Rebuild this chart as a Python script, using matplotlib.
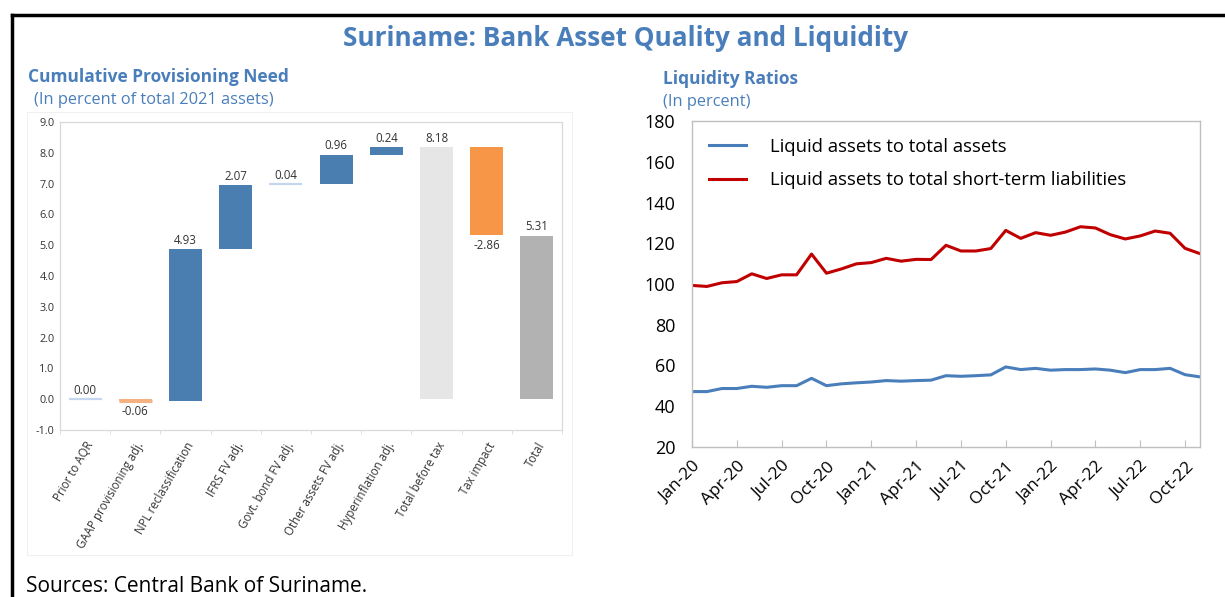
import numpy as np
import matplotlib.pyplot as plt
from matplotlib.lines import Line2D
from matplotlib.patches import Rectangle

plt.rcParams['font.family'] = ['Open Sans', 'DejaVu Sans']

# left panel: waterfall of provisioning need
steps = ['Prior to AQR', 'GAAP provisioning adj.', 'NPL reclassification', 'IFRS FV adj.',
         'Govt. bond FV adj.', 'Other assets FV adj.', 'Hyperinflation adj.',
         'Total before tax', 'Tax impact', 'Total']
changes = [0.00, -0.06, 4.93, 2.07, 0.04, 0.96, 0.24, 8.18, -2.86, 5.31]
kinds = ['adj', 'neg', 'adj', 'adj', 'adj', 'adj', 'adj', 'subtotal', 'tax', 'total']

# right panel: liquidity ratios, monthly Jan-20 .. Nov-22
months = ['Jan-20', 'Feb-20', 'Mar-20', 'Apr-20', 'May-20', 'Jun-20', 'Jul-20', 'Aug-20',
          'Sep-20', 'Oct-20', 'Nov-20', 'Dec-20', 'Jan-21', 'Feb-21', 'Mar-21', 'Apr-21',
          'May-21', 'Jun-21', 'Jul-21', 'Aug-21', 'Sep-21', 'Oct-21', 'Nov-21', 'Dec-21',
          'Jan-22', 'Feb-22', 'Mar-22', 'Apr-22', 'May-22', 'Jun-22', 'Jul-22', 'Aug-22',
          'Sep-22', 'Oct-22', 'Nov-22']
liq_total_assets = [47.2, 47.2, 48.7, 48.7, 49.8, 49.3, 50.1, 50.1, 53.7, 50.1, 51.0, 51.5,
                    51.9, 52.6, 52.3, 52.6, 52.8, 55.0, 54.7, 55.0, 55.4, 59.3, 58.0, 58.6,
                    57.7, 58.0, 58.0, 58.3, 57.7, 56.5, 58.0, 58.0, 58.6, 55.5, 54.4]
liq_st_liab = [99.3, 98.8, 100.6, 101.2, 105.0, 102.7, 104.5, 104.5, 114.7, 105.3, 107.4, 109.9,
               110.5, 112.6, 111.2, 112.1, 112.0, 119.0, 116.2, 116.2, 117.4, 126.3, 122.4, 125.2,
               123.9, 125.5, 128.1, 127.5, 124.2, 122.1, 123.6, 126.0, 124.9, 117.5, 114.9]

W, H = 1225, 597
fig = plt.figure(figsize=(W / 100, H / 100), dpi=100)
title_c = '#4A7EBB'

def fx(px): return px / W
def fy(py): return 1 - py / H

# black frame of the box (cut at right/bottom)
fig.add_artist(Line2D([fx(12), fx(12)], [fy(15), 0], color='black', lw=2.5))
fig.add_artist(Line2D([fx(12), 1], [fy(15), fy(15)], color='black', lw=2.5))
fig.add_artist(Rectangle((fx(27), fy(555)), fx(572) - fx(27), fy(112) - fy(555),
                         fill=False, ec='#f0f0f0', lw=0.8))

fig.text(fx(626), fy(38), 'Suriname: Bank Asset Quality and Liquidity', ha='center', va='center',
         fontsize=18.8, fontweight='bold', color=title_c)
fig.text(fx(28), fy(77), 'Cumulative Provisioning Need', ha='left', va='center',
         fontsize=12.5, fontweight='bold', color=title_c)
fig.text(fx(34), fy(100), '(In percent of total 2021 assets)', ha='left', va='center',
         fontsize=11.8, color=title_c)
fig.text(fx(663), fy(79), 'Liquidity Ratios', ha='left', va='center',
         fontsize=12.5, fontweight='bold', color=title_c)
fig.text(fx(663), fy(102), '(In percent)', ha='left', va='center', fontsize=11.8, color=title_c)
fig.text(fx(26), fy(587), 'Sources: Central Bank of Suriname.', ha='left', va='center',
         fontsize=15, color='black')

# ---- waterfall
ax = fig.add_axes([fx(60), fy(430), fx(562) - fx(60), fy(122) - fy(430)])
bottoms, heights, colors = [], [], []
level = 0.0
for k, c in zip(kinds, changes):
    if k in ('adj', 'neg', 'tax'):
        bottoms.append(level); heights.append(c); level += c
        colors.append({'adj': '#4A7EB0', 'neg': '#F6B183', 'tax': '#F79646'}[k])
    elif k == 'subtotal':
        bottoms.append(0); heights.append(c); level = c; colors.append('#E6E6E6')
    else:
        bottoms.append(0); heights.append(c); colors.append('#B2B2B2')
x = np.arange(len(steps))
ax.bar(x, heights, bottom=bottoms, width=0.66, color=colors, edgecolor='none')
for i, (b, h) in enumerate(zip(bottoms, heights)):
    if abs(h) < 0.1:
        ax.plot([i - 0.33, i + 0.33], [b + h, b + h],
                color='#C5D7EE' if kinds[i] == 'adj' else '#F6B183',
                lw=1.6 if kinds[i] == 'adj' else 2.2, solid_capstyle='butt')
    if h >= 0:
        ax.text(i, b + h + 0.07, f'{h:.2f}', ha='center', va='bottom', fontsize=8.3, color='#333333')
    else:
        ax.text(i, b + h - 0.12, f'{h:.2f}', ha='center', va='top', fontsize=8.3, color='#333333')
ax.set_xlim(-0.5, len(steps) - 0.5)
ax.set_ylim(-1, 9)
ax.set_yticks(np.arange(-1, 9.1, 1))
ax.set_yticklabels([f'{v:.1f}' for v in np.arange(-1, 9.1, 1)], fontsize=7.8, color='#333333')
ax.set_xticks(x)
ax.set_xticklabels(steps, rotation=60, ha='right', rotation_mode='anchor', fontsize=8.3,
                   color='#333333')
ax.set_xticks(np.arange(-0.5, len(steps)), minor=True)
ax.tick_params(axis='x', which='major', length=0, pad=7)
ax.tick_params(axis='x', which='minor', length=3, color='#D9D9D9')
ax.tick_params(axis='y', length=0, pad=4)
for s in ax.spines.values():
    s.set_color('#D9D9D9'); s.set_linewidth(0.9)

# ---- liquidity lines
ax2 = fig.add_axes([fx(692), fy(447), fx(1200) - fx(692), fy(121) - fy(447)])
t = np.arange(len(months))
ax2.plot(t, liq_total_assets, color='#4A7EBB', lw=2.2, label='Liquid assets to total assets')
ax2.plot(t, liq_st_liab, color='#C00000', lw=2.2, label='Liquid assets to total short-term liabilities')
ax2.set_xlim(0, len(months) - 1)
ax2.set_ylim(20, 180)
ax2.set_yticks(range(20, 181, 20))
ax2.tick_params(axis='y', length=0, labelsize=13, pad=12)
ax2.set_xticks(t[::3])
ax2.set_xticklabels(months[::3], rotation=45, ha='right', rotation_mode='anchor', fontsize=12.5)
ax2.tick_params(axis='x', direction='in', length=5, color='#BFBFBF', pad=8)
for s in ax2.spines.values():
    s.set_color('#BFBFBF'); s.set_linewidth(1)
ax2.legend(loc='upper left', frameon=False, fontsize=13.3, handlelength=2.0, handletextpad=1.3,
           labelspacing=0.85, borderaxespad=0.5, bbox_to_anchor=(0.0, 1.0))

fig.savefig('out.png', dpi=100)
